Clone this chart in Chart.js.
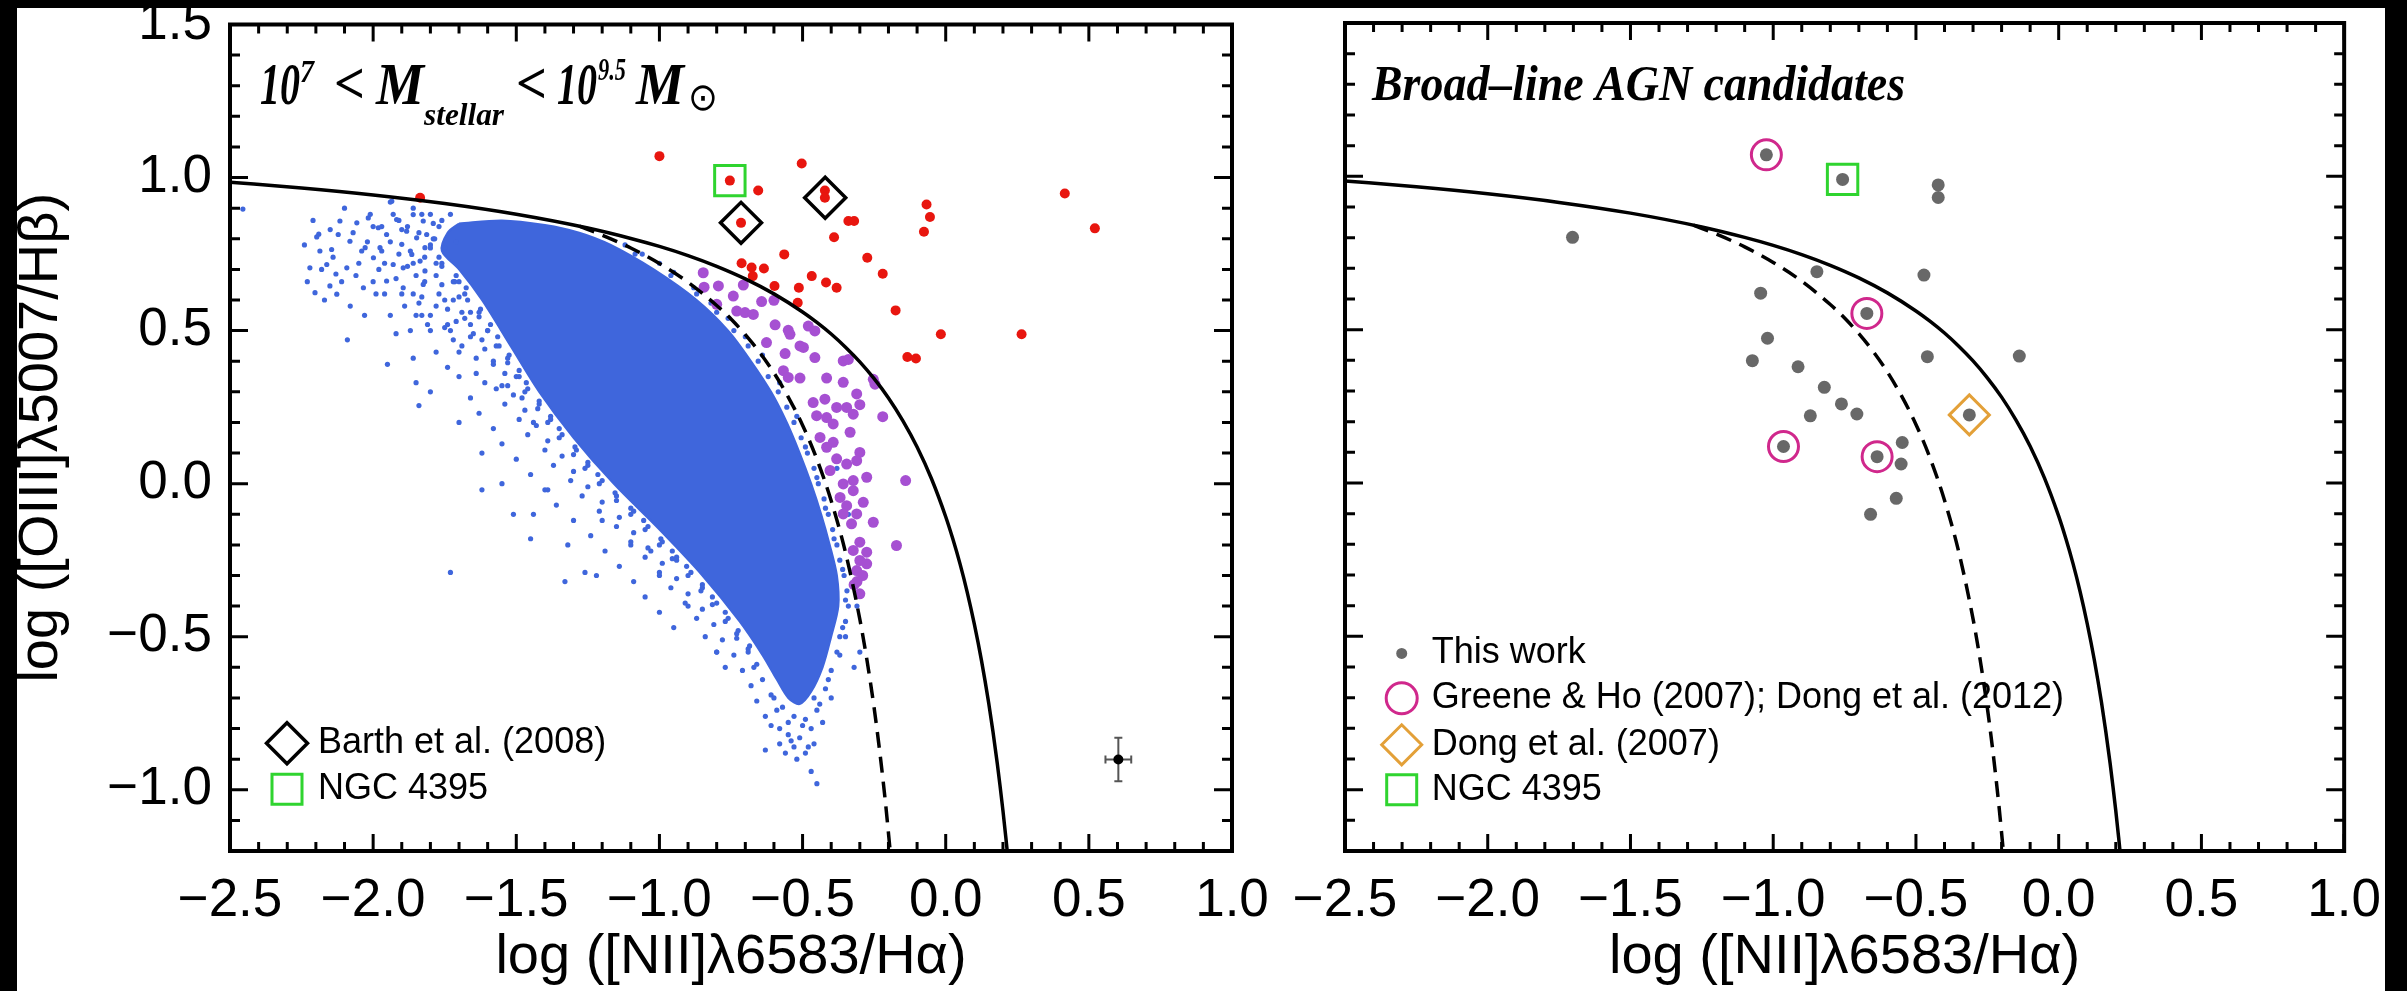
<!DOCTYPE html>
<html>
<head>
<meta charset="utf-8">
<script src="https://cdn.jsdelivr.net/npm/chart.js@4.4.1/dist/chart.umd.min.js"></script>
<style>
html, body { margin:0; padding:0; background:#000; width:2407px; height:991px; overflow:hidden; }
#paper { position:absolute; left:17px; top:8px; width:2368px; height:983px; background:#fff; }
#cl { position:absolute; left:0; top:-20px; }
#cr { position:absolute; left:1195px; top:-20px; }
</style>
</head>
<body>
<div id="paper"></div>
<canvas id="cl" width="1300" height="1011"></canvas>
<canvas id="cr" width="1205" height="1011"></canvas>
<script>
// ---------------- data ----------------
const xMajorTicks = [-2.5, -2.0, -1.5, -1.0, -0.5, 0.0, 0.5, 1.0];
const xTickLabels = ['\u22122.5', '\u22122.0', '\u22121.5', '\u22121.0', '\u22120.5', '0.0', '0.5', '1.0'];
const yMajorTicks = [-1.0, -0.5, 0.0, 0.5, 1.0, 1.5];
const yTickLabels = ['\u22121.0', '\u22120.5', '0.0', '0.5', '1.0', '1.5'];
const xAxisTitle = 'log ([NII]\u03bb6583/H\u03b1)';
const yAxisTitle = 'log ([OIII]\u03bb5007/H\u03b2)';
const leftAnnotationParts = ['10', '7', '<', 'M', 'stellar', '<', '10', '9.5', 'M', '\u2299'];
const rightAnnotation = 'Broad\u2013line AGN candidates';
const legendLeftLabels = ['Barth et al. (2008)', 'NGC 4395'];
const legendRightLabels = ['This work', 'Greene & Ho (2007); Dong et al. (2012)', 'Dong et al. (2007)', 'NGC 4395'];

// maximum starburst line (solid)
const kewleyLine = [[-2.5,0.985],[-2.25,0.966],[-2.0,0.943],[-1.75,0.915],[-1.5,0.880],[-1.25,0.835],[-1.1,0.801],[-1.0,0.775],[-0.9,0.745],[-0.8,0.710],[-0.7,0.669],[-0.6,0.620],[-0.5,0.561],[-0.45,0.527],[-0.4,0.489],[-0.35,0.446],[-0.3,0.398],[-0.25,0.343],[-0.2,0.280],[-0.15,0.206],[-0.1,0.120],[-0.05,0.017],[0.0,-0.108],[0.025,-0.181],[0.05,-0.262],[0.075,-0.354],[0.1,-0.459],[0.125,-0.578],[0.15,-0.716],[0.165,-0.810],[0.18,-0.913],[0.19,-0.989],[0.2,-1.069],[0.21,-1.156],[0.215,-1.202]];
// pure star-forming line (dashed)
const kauffmannLine = [[-1.28,0.841],[-1.2,0.812],[-1.1,0.770],[-1.0,0.719],[-0.9,0.658],[-0.8,0.582],[-0.75,0.538],[-0.7,0.487],[-0.65,0.429],[-0.6,0.362],[-0.55,0.283],[-0.5,0.191],[-0.45,0.080],[-0.4,-0.056],[-0.35,-0.225],[-0.3,-0.443],[-0.275,-0.577],[-0.25,-0.733],[-0.23,-0.879],[-0.21,-1.046],[-0.194,-1.2]];

// saturated core of the star-forming cloud (outline)
const sfCore = [[-1.70,0.85],[-1.55,0.86],[-1.40,0.845],[-1.28,0.82],[-1.17,0.78],[-1.02,0.70],[-0.87,0.60],[-0.76,0.50],[-0.68,0.40],[-0.61,0.30],[-0.555,0.20],[-0.51,0.10],[-0.47,0.00],[-0.435,-0.10],[-0.405,-0.20],[-0.38,-0.30],[-0.375,-0.40],[-0.40,-0.50],[-0.43,-0.60],[-0.47,-0.68],[-0.51,-0.72],[-0.55,-0.70],[-0.59,-0.64],[-0.64,-0.56],[-0.72,-0.45],[-0.85,-0.30],[-1.00,-0.15],[-1.16,0.00],[-1.30,0.15],[-1.42,0.30],[-1.52,0.45],[-1.62,0.60],[-1.70,0.70],[-1.76,0.76],[-1.74,0.82],[-1.70,0.85]];

// individual star-forming galaxies outside the saturated core
const sfPoints = [
[-2.455,0.897],[-2.19,0.815],[-2.13,0.685],[-2.09,0.47],[-1.95,0.39],[-1.85,0.33],[-1.84,0.255],[-2.02,0.79],[-1.94,0.92],[-2.05,0.72],[-2.00,0.66],[-1.97,0.76],[-1.90,0.83],[-1.88,0.71],[-1.86,0.62],[-1.83,0.55],[-1.80,0.78],[-1.78,0.68],[-1.76,0.86],[-1.75,0.60],[-1.73,0.50],[-1.70,0.43],[-1.66,0.56],[-1.64,0.36],[-1.62,0.47],[-1.58,0.40],[-1.55,0.32],[-1.53,0.32],[-1.48,0.28],[-1.44,0.20],
[-1.73,-0.29],[-1.62,-0.02],[-1.51,-0.10],[-1.45,-0.18],[-1.39,-0.02],[-1.33,-0.32],[-1.26,-0.29],[-1.03,-0.22],[-0.94,-0.25],[-0.32,-0.60],[-1.20,-0.12],[-1.10,-0.20],[-1.00,-0.30],[-0.90,-0.40],[-0.80,-0.55],[-0.63,-0.87],[-0.45,-0.98],[-0.47,-0.94],[-0.52,-0.90],[-0.54,-0.84],[-0.58,-0.80],[-0.48,-0.86],[-0.46,-0.85],[-0.49,-0.88],[-0.56,-0.88],[-0.53,-0.86],[-0.61,-0.79],[-0.58,-0.85],[-0.55,-0.82],
[-2.197,0.806],[-2.186,0.760],[-2.145,0.765],[-2.116,0.858],[-2.122,0.814],[-2.092,0.705],[-2.081,0.792],[-2.057,0.852],[-2.028,0.771],[-2.017,0.868],[-1.999,0.738],[-1.982,0.836],[-1.976,0.771],[-1.953,0.814],[-1.935,0.923],[-1.930,0.716],[-1.918,0.863],[-1.900,0.782],[-1.895,0.705],[-1.883,0.825],[-1.865,0.749],[-1.860,0.879],[-1.848,0.803],[-1.836,0.727],[-1.825,0.858],[-1.819,0.771],[-2.221,0.705],[-2.162,0.716],[-2.151,0.646],[-2.203,0.624],[-2.127,0.619],[-2.034,0.640],[-1.953,0.662],[-1.895,0.640],[-1.825,0.651],[-1.819,0.695],[-1.813,0.814],
[-2.00,0.84],[-1.98,0.70],[-1.96,0.62],[-1.94,0.79],[-1.92,0.67],[-1.91,0.86],[-1.89,0.58],[-1.87,0.76],[-1.86,0.90],[-1.85,0.68],[-1.84,0.82],[-1.83,0.61],[-1.82,0.74],[-1.81,0.52],
[-1.80,0.88],[-1.79,0.80],[-1.78,0.72],[-1.78,0.58],[-1.77,0.84],[-1.76,0.65],[-1.75,0.77],[-1.74,0.52],[-1.73,0.88],[-1.72,0.60],[-1.71,0.79],[-1.70,0.66],[-1.69,0.56],[-1.68,0.62],[-1.66,0.52],[-1.65,0.49],
[-2.24,0.78],[-2.23,0.66],[-2.21,0.86],[-2.18,0.70],[-2.17,0.60],[-2.15,0.83],[-2.14,0.74],[-2.11,0.66],[-2.10,0.90],[-2.08,0.58],[-2.07,0.82],[-2.06,0.68],[-2.04,0.76],[-2.03,0.55],[-2.01,0.88],[-1.99,0.62],[-1.97,0.84],[-1.96,0.72],[-1.94,0.55],[-1.93,0.88],[-1.91,0.75],[-1.90,0.62],[-1.88,0.84],[-1.87,0.50],[-1.86,0.72],[-1.84,0.59],[-1.83,0.88],[-1.82,0.66],[-1.80,0.55],[-1.79,0.85],[-1.77,0.62],[-1.76,0.72],[-1.74,0.57],[-1.72,0.66],[-1.71,0.53],[-1.70,0.61],
[-1.63,0.56],[-1.68,0.54],[-1.75,0.51],[-1.85,0.55],[-1.60,0.50],[-1.66,0.48],[-1.72,0.47],[-1.80,0.50],[-1.92,0.49],[-1.56,0.45],[-1.61,0.44],[-1.69,0.45],[-1.78,0.43],[-1.53,0.41],[-1.58,0.39],[-1.64,0.41],[-1.74,0.38],[-1.86,0.41],[-1.49,0.35],[-1.54,0.36],[-1.61,0.33],[-1.70,0.35],[-1.46,0.31],[-1.51,0.29],[-1.57,0.31],[-1.66,0.28],[-1.80,0.30],[-1.42,0.26],[-1.47,0.24],[-1.54,0.26],[-1.63,0.23],[-1.38,0.21],[-1.43,0.19],[-1.49,0.21],[-1.58,0.18],[-1.70,0.20],[-1.34,0.16],[-1.39,0.14],[-1.46,0.16],[-1.55,0.13],[-1.29,0.11],[-1.34,0.09],[-1.40,0.11],[-1.50,0.08],[-1.62,0.10],[-1.25,0.06],[-1.30,0.04],[-1.37,0.06],[-1.45,0.03],[-1.20,0.01],[-1.25,-0.01],[-1.31,0.01],[-1.40,-0.02],[-1.55,0.00],[-1.15,-0.04],[-1.20,-0.06],[-1.27,-0.04],[-1.36,-0.07],[-1.09,-0.09],[-1.14,-0.11],[-1.21,-0.09],[-1.30,-0.12],[-1.44,-0.10],[-1.04,-0.14],[-1.09,-0.16],[-1.15,-0.14],[-1.24,-0.17],[-0.99,-0.19],[-1.04,-0.21],[-1.10,-0.19],[-1.19,-0.22],[-1.32,-0.20],[-0.94,-0.24],[-0.99,-0.26],[-1.05,-0.24],[-1.14,-0.27],[-0.89,-0.29],[-0.94,-0.31],[-1.00,-0.29],[-1.09,-0.32],[-1.22,-0.30],[-0.85,-0.34],[-0.90,-0.36],[-0.96,-0.34],[-1.05,-0.37],[-0.80,-0.39],[-0.85,-0.41],[-0.91,-0.39],[-1.00,-0.42],[-0.76,-0.44],[-0.81,-0.46],[-0.87,-0.44],[-0.95,-0.47],[-0.73,-0.49],[-0.78,-0.51],[-0.84,-0.50],[-0.69,-0.54],[-0.74,-0.56],[-0.80,-0.55],[-0.66,-0.59],[-0.71,-0.61],[-0.77,-0.60],[-0.64,-0.64],[-0.68,-0.66],[-0.61,-0.69],[-0.66,-0.71],[-0.59,-0.74],[-0.63,-0.76],
[-1.785,0.80],[-1.77,0.74],[-1.71,0.68],[-1.675,0.64],[-1.625,0.57],[-1.59,0.52],[-1.565,0.48],[-1.525,0.42],[-1.49,0.37],[-1.465,0.33],[-1.42,0.27],[-1.38,0.22],[-1.35,0.18],[-1.295,0.12],[-1.25,0.07],[-1.215,0.03],[-1.155,-0.03],[-1.10,-0.08],[-1.055,-0.12],[-0.995,-0.18],[-0.955,-0.22],[-0.905,-0.27],[-0.85,-0.33],[-0.815,-0.37],[-0.77,-0.42],[-0.725,-0.48],[-0.685,-0.53],
[-1.80,0.77],[-1.76,0.71],[-1.715,0.66],[-1.67,0.60],[-1.63,0.545],[-1.60,0.50],[-1.57,0.45],[-1.53,0.395],[-1.50,0.35],[-1.47,0.30],[-1.425,0.245],[-1.39,0.20],[-1.35,0.15],[-1.30,0.095],[-1.26,0.05],[-1.21,0.00],[-1.15,-0.055],[-1.10,-0.10],[-1.05,-0.15],[-1.00,-0.20],[-0.955,-0.245],[-0.90,-0.30],[-0.855,-0.35],[-0.815,-0.395],[-0.77,-0.45],[-0.73,-0.505],[-0.69,-0.55],[-0.67,-0.60],
[-1.085,0.75],[-0.96,0.68],[-0.87,0.62],[-0.80,0.56],[-0.74,0.50],[-0.69,0.45],[-0.655,0.40],[-0.62,0.35],[-0.585,0.30],[-0.555,0.25],[-0.53,0.20],[-0.505,0.15],[-0.483,0.10],[-0.46,0.05],[-0.445,0.00],[-0.425,-0.05],[-0.41,-0.10],[-0.395,-0.15],[-0.38,-0.20],[-0.37,-0.25],[-0.355,-0.30],[-0.345,-0.35],[-0.34,-0.40],[-0.35,-0.45],[-0.37,-0.50],
[-0.52,0.22],[-0.58,0.33],[-0.64,0.42],[-0.70,0.48],[-0.76,0.54],[-0.82,0.59],[-0.88,0.64],[-0.95,0.69],[-1.00,0.72],[-1.06,0.75],[-1.12,0.78],[-0.49,0.12],[-0.45,0.02],[-0.42,-0.08],[-0.39,-0.18],[-0.36,-0.28],[-0.35,-0.38],[-0.36,-0.47],[-0.38,-0.55],[-0.41,-0.64],[-0.44,-0.72],[-0.38,0.05],[-0.34,-0.10],[-0.33,-0.22],[-0.31,-0.40],[-0.30,-0.55],[-0.35,-0.50],[-0.37,-0.56],[-0.40,-0.70],[-0.43,-0.78],[-0.47,-0.80],[-0.51,-0.83],
[-0.40,-0.61],[-0.42,-0.67],[-0.45,-0.74],[-0.49,-0.77],[-0.53,-0.76],[-0.57,-0.73],[-0.60,-0.70],[-0.50,-0.79],[-0.46,-0.70],[-0.55,-0.78]
];

// composite galaxies (purple)
const compositePoints = [[-0.847,0.689],[-0.844,0.642],[-0.794,0.646],[-0.742,0.613],[-0.707,0.649],[-0.643,0.595],[-0.600,0.599],[-0.800,0.586],[-0.730,0.564],[-0.701,0.559],[-0.672,0.553],[-0.596,0.519],[-0.550,0.501],[-0.480,0.515],[-0.457,0.499],[-0.626,0.461],[-0.544,0.488],[-0.509,0.450],[-0.497,0.445],[-0.561,0.425],[-0.457,0.412],[-0.358,0.401],[-0.340,0.406],[-0.567,0.369],[-0.550,0.347],[-0.509,0.345],[-0.416,0.345],[-0.358,0.331],[-0.253,0.341],[-0.247,0.325],[-0.311,0.293],[-0.463,0.265],[-0.422,0.276],[-0.381,0.249],[-0.346,0.249],[-0.300,0.258],[-0.323,0.227],[-0.451,0.222],[-0.416,0.216],[-0.220,0.219],[-0.393,0.195],[-0.334,0.168],[-0.439,0.151],[-0.393,0.135],[-0.416,0.119],[-0.300,0.102],[-0.311,0.075],[-0.381,0.081],[-0.346,0.064],[-0.404,0.043],[-0.323,0.010],[-0.358,-0.001],[-0.323,-0.023],[-0.140,0.010],[-0.276,0.021],[-0.369,-0.045],[-0.346,-0.072],[-0.288,-0.061],[-0.311,-0.099],[-0.358,-0.099],[-0.329,-0.131],[-0.253,-0.126],[-0.300,-0.191],[-0.172,-0.202],[-0.323,-0.218],[-0.276,-0.224],[-0.300,-0.251],[-0.311,-0.284],[-0.276,-0.262],[-0.31,-0.32],[-0.30,-0.36],[-0.29,-0.30],[-0.32,-0.33]];

// AGN (red)
const agnPoints = [[-1.836,0.934],[-1.00,1.07],[-0.754,0.990],[-0.503,1.046],[-0.655,0.958],[-0.422,0.958],[-0.422,0.934],[-0.715,0.852],[0.416,0.948],[0.521,0.834],[-0.067,0.912],[-0.055,0.871],[-0.076,0.823],[-0.340,0.858],[-0.320,0.858],[-0.390,0.805],[-0.564,0.749],[-0.713,0.720],[-0.678,0.706],[-0.635,0.703],[-0.674,0.678],[-0.274,0.738],[-0.220,0.686],[-0.468,0.678],[-0.418,0.657],[-0.381,0.640],[-0.598,0.646],[-0.513,0.640],[-0.517,0.591],[-0.175,0.566],[-0.017,0.488],[0.265,0.488],[-0.134,0.414],[-0.104,0.409]];

const barthPoints = [[-0.715,0.852],[-0.421,0.934]];
const ngc4395Left = [[-0.754,0.990]];
// typical error bar: [x, y, xerr, yerr]
const errorPoint = [0.603, -0.901, 0.045, 0.071];

// right panel: broad-line AGN candidates
const broadLinePoints = [[-1.024,1.070],[-0.757,0.990],[-0.422,0.972],[-0.422,0.931],[-1.703,0.801],[-0.847,0.689],[-1.044,0.619],[-0.472,0.678],[-0.672,0.553],[-1.020,0.472],[-1.073,0.399],[-0.913,0.379],[-0.460,0.412],[-0.138,0.414],[-0.821,0.312],[-0.761,0.258],[-0.707,0.225],[-0.870,0.219],[-0.313,0.222],[-0.964,0.119],[-0.636,0.086],[-0.548,0.132],[-0.552,0.062],[-0.569,-0.050],[-0.659,-0.102]];
const greeneHoPoints = [[-1.024,1.070],[-0.672,0.553],[-0.964,0.119],[-0.636,0.086]];
const dong2007Points = [[-0.313,0.222]];
const ngc4395Right = [[-0.757,0.990]];

// ---------------- styling ----------------
const SANS = '"Liberation Sans", Arial, Helvetica, sans-serif';
const SERIF = '"Liberation Serif", "Times New Roman", "DejaVu Serif", serif';
const BLUE = '#3f66dc', PURPLE = '#a650d2', RED = '#e8160f', GRAY = '#686868';
const GREEN = '#2fd42f', MAGENTA = '#d0288c', ORANGE = '#e3a038';
const CLEAR = 'rgba(0,0,0,0)';

const pts = arr => arr.map(p => ({x: p[0], y: p[1]}));
const tickLabel = (v, ticks, labels) => { const i = ticks.findIndex(t => Math.abs(t - v) < 1e-6); return i >= 0 ? labels[i] : ''; };

function drawMarker(ctx, kind, x, y, size, color, lw) {
  ctx.save();
  ctx.lineWidth = lw; ctx.strokeStyle = color; ctx.fillStyle = color;
  ctx.beginPath();
  if (kind === 'diamond') { ctx.moveTo(x - size, y); ctx.lineTo(x, y - size); ctx.lineTo(x + size, y); ctx.lineTo(x, y + size); ctx.closePath(); ctx.stroke(); }
  else if (kind === 'square') { ctx.rect(x - size, y - size, 2 * size, 2 * size); ctx.stroke(); }
  else if (kind === 'ring') { ctx.arc(x, y, size, 0, 2 * Math.PI); ctx.stroke(); }
  else { ctx.arc(x, y, size, 0, 2 * Math.PI); ctx.fill(); }
  ctx.restore();
}

const framePlugin = {
  id: 'frameTicks',
  afterDatasetsDraw(chart) {
    const {ctx, chartArea: a, scales: {x, y}} = chart;
    ctx.save();
    ctx.strokeStyle = '#000'; ctx.lineWidth = 3; ctx.lineCap = 'butt';
    ctx.beginPath();
    for (let k = -25; k <= 10; k++) {
      const v = k / 10;
      const L = xMajorTicks.some(t => Math.abs(t - v) < 1e-6) ? 17 : 9;
      const px = x.getPixelForValue(v);
      ctx.moveTo(px, a.bottom); ctx.lineTo(px, a.bottom - L);
      ctx.moveTo(px, a.top); ctx.lineTo(px, a.top + L);
    }
    for (let k = -12; k <= 15; k++) {
      const v = k / 10;
      const L = yMajorTicks.some(t => Math.abs(t - v) < 1e-6) ? 18 : 10;
      const py = y.getPixelForValue(v);
      ctx.moveTo(a.left, py); ctx.lineTo(a.left + L, py);
      ctx.moveTo(a.right, py); ctx.lineTo(a.right - L, py);
    }
    ctx.stroke();
    ctx.lineWidth = 4; ctx.lineJoin = 'miter';
    ctx.strokeRect(a.left, a.top, a.right - a.left, a.bottom - a.top);
    ctx.restore();
  }
};

const errorBarPlugin = {
  id: 'errorBar',
  beforeDatasetsDraw(chart) {
    const {ctx, scales: {x, y}} = chart;
    const [ex, ey, dx, dy] = errorPoint;
    const cx = x.getPixelForValue(ex), cy = y.getPixelForValue(ey);
    const x0 = x.getPixelForValue(ex - dx), x1 = x.getPixelForValue(ex + dx);
    const y0 = y.getPixelForValue(ey - dy), y1 = y.getPixelForValue(ey + dy);
    ctx.save();
    ctx.strokeStyle = '#555'; ctx.lineWidth = 2;
    ctx.beginPath();
    ctx.moveTo(x0, cy); ctx.lineTo(x1, cy);
    ctx.moveTo(cx, y0); ctx.lineTo(cx, y1);
    ctx.moveTo(x0, cy - 4); ctx.lineTo(x0, cy + 4);
    ctx.moveTo(x1, cy - 4); ctx.lineTo(x1, cy + 4);
    ctx.moveTo(cx - 4, y0); ctx.lineTo(cx + 4, y0);
    ctx.moveTo(cx - 4, y1); ctx.lineTo(cx + 4, y1);
    ctx.stroke();
    ctx.restore();
  }
};

const leftTextPlugin = {
  id: 'leftText',
  afterDraw(chart) {
    const {ctx, chartArea: a} = chart;
    // [dx, baseline dy, font size, max width] for each part
    const layout = [[30,79,60,40],[70,57,32,14],[104,78,60,31],[146,79,60,48],[194,100,32,80],[286,78,60,31],[327,79,60,40],[368,55,32,28],[406,79,60,48]];
    ctx.save();
    ctx.fillStyle = '#000'; ctx.textAlign = 'left'; ctx.textBaseline = 'alphabetic';
    layout.forEach((l, i) => {
      ctx.font = 'italic bold ' + l[2] + 'px ' + SERIF;
      ctx.fillText(leftAnnotationParts[i], a.left + l[0], a.top + l[1], l[3]);
    });
    ctx.font = '38px "DejaVu Sans", sans-serif';
    ctx.textBaseline = 'middle';
    ctx.fillText(leftAnnotationParts[9], a.left + 458, a.top + 76, 30);
    // legend
    ctx.font = '36px ' + SANS; ctx.textBaseline = 'middle';
    const yd = a.bottom - 107.7, ys = a.bottom - 61.7;
    drawMarker(ctx, 'diamond', a.left + 57, yd, 20.5, '#000', 3.5);
    ctx.fillText(legendLeftLabels[0], a.left + 88, yd);
    drawMarker(ctx, 'square', a.left + 57, ys, 15, GREEN, 3);
    ctx.fillText(legendLeftLabels[1], a.left + 88, ys);
    ctx.restore();
  }
};

const rightTextPlugin = {
  id: 'rightText',
  afterDraw(chart) {
    const {ctx, chartArea: a} = chart;
    ctx.save();
    ctx.fillStyle = '#000'; ctx.textAlign = 'left'; ctx.textBaseline = 'alphabetic';
    ctx.font = 'italic bold 50px ' + SERIF;
    ctx.fillText(rightAnnotation, a.left + 27, a.top + 77, 533);
    ctx.font = '36px ' + SANS; ctx.textBaseline = 'middle';
    const rows = [197.6, 152.7, 106.2, 61.3];
    const mk = [['dot', 5.5, GRAY, 0], ['ring', 15.5, MAGENTA, 3], ['diamond', 20, ORANGE, 3], ['square', 15, GREEN, 3]];
    rows.forEach((r, i) => {
      const yy = a.bottom - r;
      drawMarker(ctx, mk[i][0], a.left + 56.7, yy, mk[i][1], mk[i][2], mk[i][3]);
      ctx.fillStyle = '#000';
      ctx.fillText(legendRightLabels[i], a.left + 86.7, yy);
    });
    ctx.restore();
  }
};

function scalesFor(showY) {
  return {
    x: {
      type: 'linear', position: 'bottom', min: -2.5, max: 1.0,
      afterBuildTicks: s => { s.ticks = xMajorTicks.map(v => ({value: v})); },
      afterFit: s => { s.height = 140; },
      grid: {display: false, drawTicks: false}, border: {display: false},
      ticks: {autoSkip: false, maxRotation: 0, minRotation: 0, padding: 19, color: '#000',
        font: {family: SANS, size: 53}, callback: v => tickLabel(v, xMajorTicks, xTickLabels)},
      title: {display: true, text: xAxisTitle, color: '#000', font: {family: SANS, size: 56}, padding: {top: 0, bottom: 0}}
    },
    y: {
      type: 'linear', position: 'left', min: -1.2, max: 1.5, display: showY,
      afterBuildTicks: s => { s.ticks = yMajorTicks.map(v => ({value: v})); },
      afterFit: s => { if (showY) s.width = 230; },
      grid: {display: false, drawTicks: false}, border: {display: false},
      ticks: {padding: 18, color: '#000', font: {family: SANS, size: 53, lineHeight: 1.0},
        callback: v => tickLabel(v, yMajorTicks, yTickLabels)},
      title: {display: true, text: yAxisTitle, color: '#000', font: {family: SANS, size: 56}, padding: {top: 8, bottom: 0}}
    }
  };
}

function lineSets() {
  return [
    {label: 'Kewley', data: pts(kewleyLine), showLine: true, borderColor: '#000', borderWidth: 3.5,
     pointRadius: 0, fill: false, cubicInterpolationMode: 'monotone', order: 0},
    {label: 'Kauffmann', data: pts(kauffmannLine), showLine: true, borderColor: '#000', borderWidth: 3.5,
     borderDash: [16, 9], pointRadius: 0, fill: false, cubicInterpolationMode: 'monotone', order: 0}
  ];
}

function baseOptions(showY, padding) {
  return {
    responsive: false, animation: false, devicePixelRatio: 1, events: [],
    layout: {autoPadding: false, padding},
    plugins: {legend: {display: false}, tooltip: {enabled: false}},
    scales: scalesFor(showY)
  };
}

new Chart(document.getElementById('cl'), {
  type: 'scatter',
  data: {datasets: [
    ...lineSets(),
    {label: 'Barth', data: pts(barthPoints), pointStyle: 'rectRot', pointRadius: 20.5, borderColor: '#000', borderWidth: 3.5, backgroundColor: CLEAR, order: 1},
    {label: 'NGC 4395', data: pts(ngc4395Left), pointStyle: 'rect', pointRadius: 21.5, borderColor: GREEN, borderWidth: 3, backgroundColor: CLEAR, order: 1},
    {label: 'error', data: pts([errorPoint]), pointRadius: 5, backgroundColor: '#000', borderWidth: 0, order: 1},
    {label: 'AGN', data: pts(agnPoints), pointRadius: 5, backgroundColor: RED, borderWidth: 0, order: 2},
    {label: 'Composite', data: pts(compositePoints), pointRadius: 5.5, backgroundColor: PURPLE, borderWidth: 0, order: 3},
    {label: 'SF', data: pts(sfPoints), pointRadius: 2.6, backgroundColor: BLUE, borderWidth: 0, order: 4},
    {label: 'SF core', data: pts(sfCore), showLine: true, fill: 'shape', backgroundColor: BLUE, borderColor: BLUE,
     borderWidth: 2, pointRadius: 0, tension: 0.3, order: 5}
  ]},
  options: baseOptions(true, {left: 0, top: 43, right: 68, bottom: 0}),
  plugins: [errorBarPlugin, framePlugin, leftTextPlugin]
});

new Chart(document.getElementById('cr'), {
  type: 'scatter',
  data: {datasets: [
    ...lineSets(),
    {label: 'Greene & Ho', data: pts(greeneHoPoints), pointStyle: 'circle', pointRadius: 15, borderColor: MAGENTA, borderWidth: 3, backgroundColor: CLEAR, order: 1},
    {label: 'Dong 2007', data: pts(dong2007Points), pointStyle: 'rectRot', pointRadius: 20, borderColor: ORANGE, borderWidth: 3, backgroundColor: CLEAR, order: 1},
    {label: 'NGC 4395', data: pts(ngc4395Right), pointStyle: 'rect', pointRadius: 21.5, borderColor: GREEN, borderWidth: 3, backgroundColor: CLEAR, order: 1},
    {label: 'This work', data: pts(broadLinePoints), pointRadius: 6.5, backgroundColor: GRAY, borderWidth: 0, order: 2}
  ]},
  options: baseOptions(false, {left: 150, top: 43, right: 53, bottom: 0}),
  plugins: [framePlugin, rightTextPlugin]
});
</script>
</body>
</html>
